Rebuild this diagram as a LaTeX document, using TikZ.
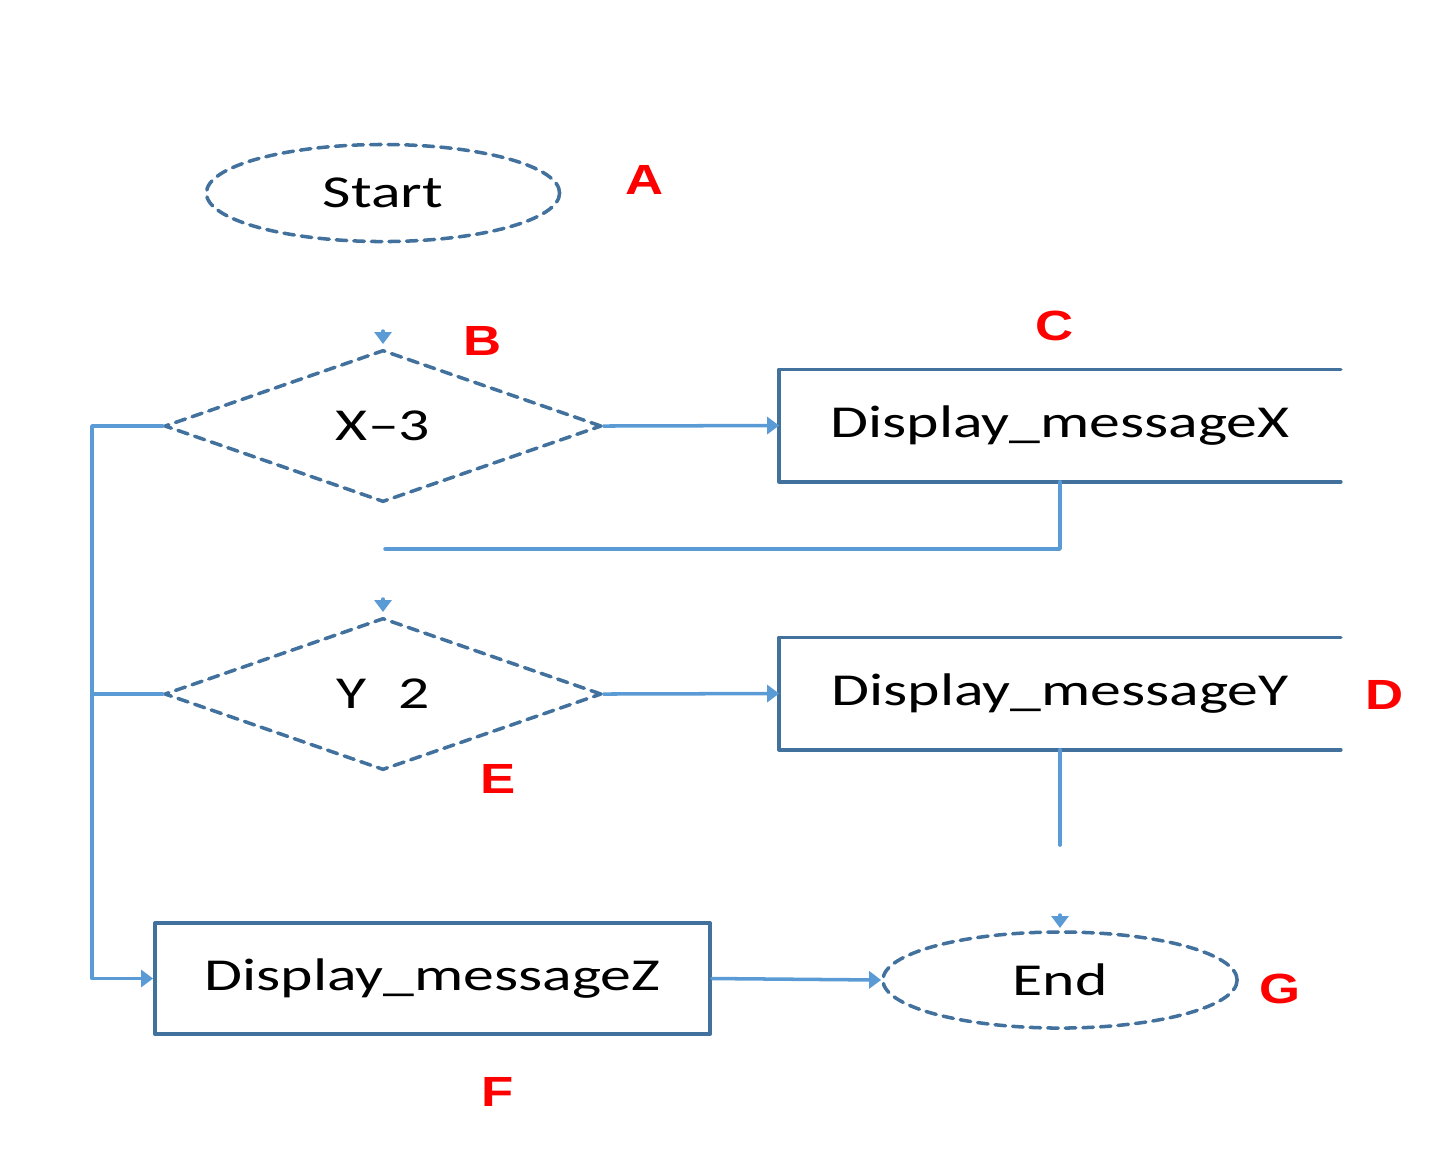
\documentclass[tikz,border=0pt]{standalone}
\usepackage{fontspec}
\usetikzlibrary{shapes.geometric,arrows.meta}
\newfontfamily\chartfont[FakeStretch=1.35]{Carlito}
\newfontfamily\tagfont[FakeStretch=1.25]{Liberation Sans}
\definecolor{flowblue}{HTML}{5B9BD5}
\definecolor{edgeblue}{HTML}{41719C}
\begin{document}
\begin{tikzpicture}[x={(0.01cm,0)},y={(0,-0.01cm)},line cap=round,line join=round,
  font=\chartfont\fontsize{13}{15}\selectfont,
  flow/.style={draw=flowblue,line width=1pt,-{Triangle[length=0.12cm,width=0.17cm]}},
  link/.style={draw=flowblue,line width=1pt},
  term/.style={ellipse,draw=edgeblue,line width=1pt,dash pattern=on 3pt off 2pt,inner sep=0pt},
  test/.style={diamond,draw=edgeblue,line width=1pt,dash pattern=on 3pt off 2pt,inner sep=0pt,minimum width=4.37cm,minimum height=1.52cm},
  msg/.style={rectangle,inner sep=0pt,minimum height=1.11cm},
  tag/.style={text=red,font=\tagfont\bfseries\fontsize{12}{14}\selectfont}]
\useasboundingbox (0,0) rectangle (1440,1159);
% shapes
\node[term,minimum width=3.53cm,minimum height=0.97cm] (start) at (383,193) {Start};
\node[test] (B) at (383,426) {X\textendash3};
\node[msg,minimum width=5.6cm] (C) at (1060,425.5) {Display\_messageX};
\node[test] (E) at (383,694) {Y\hspace{0.7em}2};
\node[msg,minimum width=5.6cm] (D) at (1060,693.5) {Display\_messageY};
\node[msg,draw=edgeblue,line width=1pt,minimum width=5.55cm] (F) at (432.5,978.5) {Display\_messageZ};
\node[term,minimum width=3.54cm,minimum height=0.96cm] (end) at (1060,980) {End};
% open boxes (right side cut off)
\draw[edgeblue,line width=1pt] (C.north east) -- (C.north west) -- (C.south west) -- (C.south east);
\draw[edgeblue,line width=1pt] (D.north east) -- (D.north west) -- (D.south west) -- (D.south east);
% letters
\node[tag] (tagA) at (645,180) {A};
\node[tag] (tagB) at (483,341) {B};
\node[tag] (tagC) at (1055,326) {C};
\node[tag] (tagD) at (1385,695) {D};
\node[tag] (tagE) at (498,779) {E};
\node[tag] (tagF) at (498,1092) {F};
\node[tag] (tagG) at (1280,989) {G};
% connectors
\coordinate (Bin) at (383,331);
\coordinate (Ein) at (383,599);
\coordinate (endin) at (1060,915);
\coordinate (joinX) at (385,549);
\coordinate (Dout) at (1060,845);
\coordinate (bus) at (92,426);
\draw[flow] (Bin) -- ++(0,13);
\draw[flow] (Ein) -- ++(0,13);
\draw[flow] (endin) -- ++(0,13);
\draw[flow] (B.east) -- (C.west);
\draw[flow] (E.east) -- (D.west);
\draw[link] (C.south) |- (joinX);
\draw[link] (D.south) -- (Dout);
\draw[flow] (B.west) -- (bus) |- (F.west);
\draw[link] (E.west) -- (bus |- E.west);
\draw[flow] (F.east) -- (end.west);
\end{tikzpicture}
\end{document}
